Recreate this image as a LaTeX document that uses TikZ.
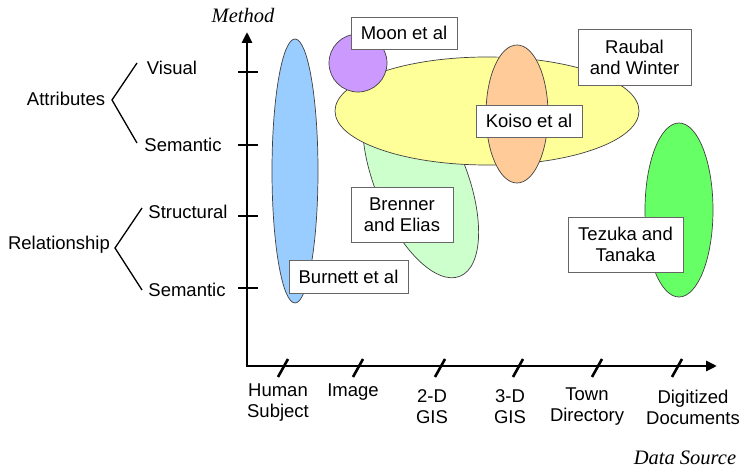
\documentclass[tikz,border=0pt]{standalone}
\usepackage{fontspec}
\setmainfont{Liberation Sans}
\newfontfamily\axisfont{Liberation Serif}
\usetikzlibrary{arrows.meta}
\definecolor{cblue}{HTML}{99CCFF}
\definecolor{cpurple}{HTML}{CC99FF}
\definecolor{cyellow}{HTML}{FFFF99}
\definecolor{corange}{HTML}{FFCC99}
\definecolor{cgreen}{HTML}{66FF66}
\definecolor{clgreen}{HTML}{CCFFCC}
\definecolor{cedge}{HTML}{404040}
\tikzset{
  txt/.style={inner sep=0pt, align=center},
  axislabel/.style={inner sep=0pt, font=\axisfont\itshape\fontsize{20.5}{24}\selectfont},
  axisline/.style={line width=2.8pt, {Triangle[length=11pt,width=10pt]}-{Triangle[length=11pt,width=10pt]}, line join=miter},
  tickmark/.style={line width=2.6pt},
  brk/.style={line width=1.3pt},
  ell/.style={draw=cedge, line width=0.7pt},
  refbox/.style={draw=black!60, line width=0.8pt, fill=white, align=center, inner sep=0pt}
}
\begin{document}
\begin{tikzpicture}[x=1pt,y=1pt,font=\fontsize{18.5}{21}\selectfont]
\useasboundingbox (0,0) rectangle (747,471);
\fill[white] (0,0) rectangle (747,471);

% axes
\coordinate (O) at (247,105);
\coordinate (ytip) at (247,439);
\coordinate (xtip) at (717,105);
\draw[axisline] (ytip) -- (O) -- (xtip);
\node[axislabel] (method) at (243,456) {Method};
\node[axislabel] (datasrc) at (685,13) {Data Source};

% vertical ticks
\foreach \yy in {399,326,255,183}
  \draw[tickmark] (238,\yy) -- (258,\yy);
% horizontal ticks
\foreach \xx in {283,358,440,518,597,677}
  \draw[tickmark] (\xx-5,94) -- (\xx+5,112);

% x labels
\node[txt] (human) at (278,68) {Human\\Subject};
\node[txt] (image) at (353,79) {Image};
\node[txt] (gis2) at (432,64) {2-D\\GIS};
\node[txt] (gis3) at (510,64) {3-D\\GIS};
\node[txt] (town) at (587,64) {Town\\Directory};
\node[txt] (digit) at (693,64) {Digitized\\Documents};

% y labels
\node[txt] (attr) at (66,372) {Attributes};
\node[txt] (visual) at (172,403) {Visual};
\node[txt] (sem1) at (183,326) {Semantic};
\node[txt] (rel) at (59,226) {Relationship};
\node[txt] (struct) at (188,259) {Structural};
\node[txt] (sem2) at (187,181) {Semantic};

\coordinate (a0) at (112,371);
\coordinate (a1) at (137,408);
\coordinate (a2) at (137,328);
\draw[brk] (a1) -- (a0) -- (a2);
\coordinate (r0) at (115,223);
\coordinate (r1) at (142,263);
\coordinate (r2) at (142,181);
\draw[brk] (r1) -- (r0) -- (r2);

% ellipses
\draw[ell, fill=cblue] (295,300) ellipse [x radius=23, y radius=132];
\draw[ell, fill=clgreen, rotate around={22:(420.6,292.1)}] (420.6,292.1) ellipse [x radius=46, y radius=105];
\draw[ell, fill=cyellow] (487,360) ellipse [x radius=152, y radius=54];
\draw[ell, fill=cpurple] (358,408) circle [radius=29];
\draw[ell, fill=corange] (517,357) ellipse [x radius=31, y radius=69];
\draw[ell, fill=cgreen] (679,261) ellipse [x radius=34, y radius=87];

% reference boxes
\node[refbox, minimum width=106pt, minimum height=32pt] (moon) at (404,438) {Moon et al};
\node[refbox, minimum width=113pt, minimum height=56pt] (raubal) at (634.5,414) {Raubal\\and Winter};
\node[refbox, minimum width=106pt, minimum height=32pt] (koiso) at (529,350) {Koiso et al};
\node[refbox, minimum width=102pt, minimum height=55pt] (brenner) at (402,256.5) {Brenner\\and Elias};
\node[refbox, minimum width=119pt, minimum height=33pt] (burnett) at (348.5,194.5) {Burnett et al};
\node[refbox, minimum width=115pt, minimum height=55pt] (tezuka) at (625.5,226.5) {Tezuka and\\Tanaka};
\end{tikzpicture}
\end{document}
